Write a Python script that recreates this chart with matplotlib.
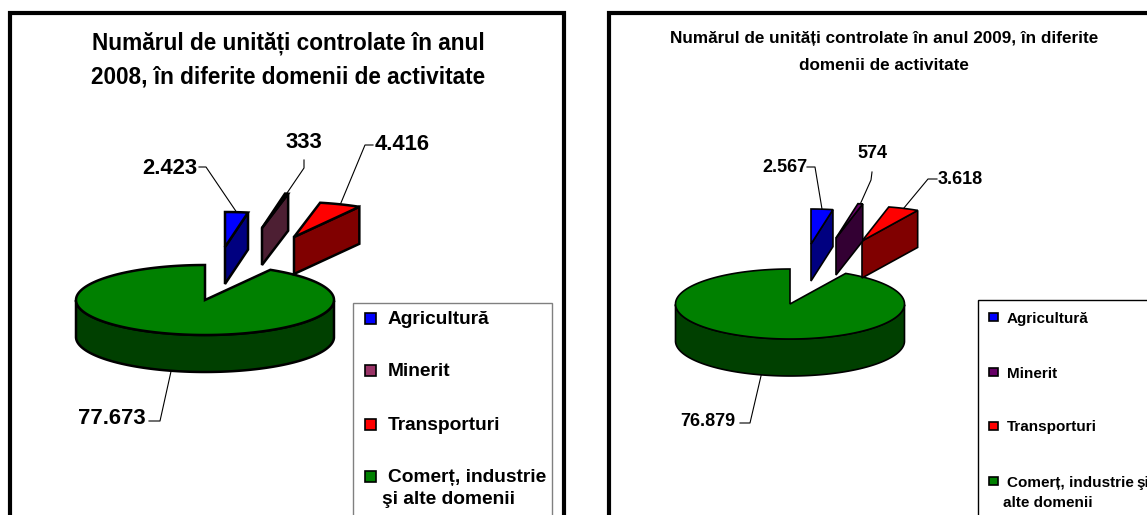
import numpy as np
import matplotlib
matplotlib.use('Agg')
import matplotlib.pyplot as plt
from matplotlib.patches import Polygon, Rectangle

categories = ['Agricultură', 'Minerit', 'Transporturi', 'Comerț, industrie']
values_2008 = [2423, 333, 4416, 77673]
values_2009 = [2567, 574, 3618, 76879]
labels_2008 = ['2.423', '333', '4.416', '77.673']
labels_2009 = ['2.567', '574', '3.618', '76.879']
title_2008 = ['Numărul de unități controlate în anul', '2008, în diferite domenii de activitate']
title_2009 = ['Numărul de unități controlate în anul 2009, în diferite', 'domenii de activitate']
top_2008 = ['#0000FF', '#993366', '#FF0000', '#008000']
side_2008 = ['#000080', '#4D1F33', '#800000', '#004000']
top_2009 = ['#0000FF', '#660066', '#FF0000', '#008000']
side_2009 = ['#000080', '#330033', '#800000', '#004000']

fig = plt.figure(figsize=(11.47, 5.15), dpi=100)
ax = fig.add_axes([0, 0, 1, 1])
ax.set_xlim(0, 1147)
ax.set_ylim(515, 0)
ax.axis('off')


def rim(t, cx, cy, rx, ry):
    # t in degrees, clockwise from the top of the ellipse
    r = np.radians(t)
    return cx + rx * np.sin(r), cy - ry * np.cos(r)


def draw_pie(values, tops, sides, cx, cy, rx, ry, depth, offsets, lw):
    angles = np.cumsum([0] + list(values)) / sum(values) * 360
    mids = []

    # big slice first, the exploded ones sit on top of it
    t = np.linspace(angles[3], angles[4], 300)
    x, y = rim(t, cx, cy, rx, ry)
    front = (t >= 90) & (t <= 270)
    fx, fy = x[front], y[front]
    ax.add_patch(Polygon(np.r_[np.c_[fx, fy], np.c_[fx, fy + depth][::-1]],
                         fc=sides[3], ec='black', lw=lw, zorder=2))
    ax.add_patch(Polygon(np.r_[[[cx, cy]], np.c_[x, y]], fc=tops[3], ec='black',
                         lw=lw, zorder=3))
    mx, my = rim((angles[3] + angles[4]) / 2, cx, cy, rx, ry)
    mids.append((mx, my + depth))

    for i in [2, 1, 0]:
        dx, dy = offsets[i]
        t = np.linspace(angles[i], angles[i + 1], 40)
        x, y = rim(t, cx + dx, cy + dy, rx, ry)
        tx, ty = cx + dx, cy + dy
        ax.add_patch(Polygon([(tx, ty), (x[-1], y[-1]), (x[-1], y[-1] + depth), (tx, ty + depth)],
                             fc=sides[i], ec='black', lw=lw, zorder=6 - i))
        ax.add_patch(Polygon(np.r_[[[tx, ty]], np.c_[x, y]], fc=tops[i], ec='black',
                             lw=lw, zorder=6 - i))
        mids.append(rim((angles[i] + angles[i + 1]) / 2, tx, ty, rx, ry))
    return mids[::-1]


def draw_frame(x0, x1, top):
    ax.plot([x0, x0, x1, x1], [525, top, top, 525], color='black', lw=3, zorder=1,
            solid_joinstyle='miter')


def draw_labels(labels, anchors, spots, elbows, size, family):
    for lab, a, s, e in zip(labels, anchors, spots, elbows):
        ax.plot([e[0][0], e[1][0], a[0]], [e[0][1], e[1][1], a[1]], color='black', lw=0.8, zorder=9)
        ax.text(s[0], s[1], lab, fontsize=size, fontweight='bold', family=family,
                ha='center', va='center', zorder=10)


def draw_legend(tops, rows, box, sq, x_sq, x_txt, size, family, ec):
    ax.add_patch(Rectangle((box[0], box[1]), box[2] - box[0], 300, fc='white', ec=ec, lw=1, zorder=1.5))
    for i, y in enumerate(rows):
        ax.add_patch(Rectangle((x_sq, y - sq / 2), sq, sq, fc=tops[i], ec='black', lw=1.2, zorder=5))
        ax.text(x_txt, y + 1.5, categories[i], fontsize=size, fontweight='bold', family=family,
                va='center', zorder=10)


sans = 'Liberation Sans'

# 2008
draw_frame(10, 564, 13)
for line, y in zip(title_2008, [43, 77]):
    ax.text(288, y, line, fontsize=16.3, fontweight='bold', family=sans, ha='center', va='center')
a = draw_pie(values_2008, top_2008, side_2008, 205, 300, 129, 35, 37,
             [(20, -53), (57, -72), (89, -63)], 1.8)
draw_labels(labels_2008, a,
            [(170, 168), (304, 142), (402, 145), (112, 418)],
            [((199, 167), (206, 167)), ((304, 160), (304, 168)),
             ((373, 145), (365, 145)), ((149, 421), (160, 421))], 15.8, sans)
draw_legend(top_2008, [318, 370, 424, 476], (353, 303, 552), 11, 365, 388, 13.8, sans, '#808080')
ax.text(382, 499.5, 'şi alte domenii', fontsize=13.8, fontweight='bold', family=sans, va='center', zorder=10)

# 2009
draw_frame(609, 1160, 13)
for line, y in zip(title_2009, [38, 65]):
    ax.text(884, y, line, fontsize=12.3, fontweight='bold', family=sans, ha='center', va='center')
a = draw_pie(values_2009, top_2009, side_2009, 790, 304, 114.5, 35, 37,
             [(21, -60), (46, -66), (72, -63)], 1.2)
draw_labels(labels_2009, a,
            [(785, 167), (872, 154), (960, 179), (708, 422)],
            [((807, 167), (815, 167)), ((872, 172), (871, 180)),
             ((937, 179), (928, 179)), ((740, 423), (750, 423))], 13, sans)
draw_legend(top_2009, [317, 372, 426, 481], (978, 300, 1170), 8.5, 989, 1007, 11, sans, 'black')
ax.text(1149, 482.5, 'şi', fontsize=11, fontweight='bold', family=sans, va='center', ha='right', zorder=10)
ax.text(1003, 503, 'alte domenii', fontsize=11, fontweight='bold', family=sans, va='center', zorder=10)

fig.savefig('out.png', dpi=100)
